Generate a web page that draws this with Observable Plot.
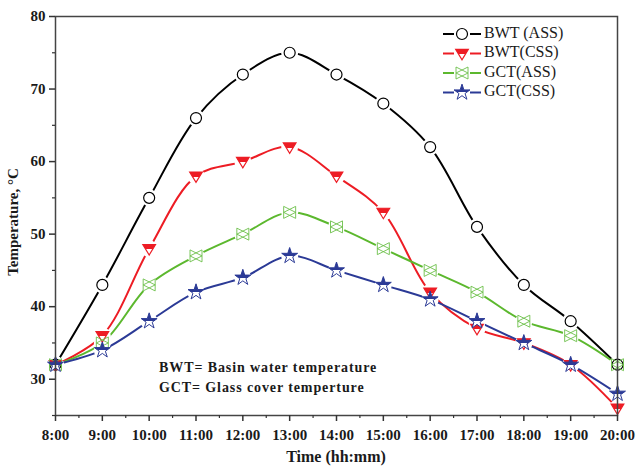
<!DOCTYPE html>
<html><head><meta charset="utf-8">
<script src="https://cdn.jsdelivr.net/npm/d3@7"></script>
<script src="https://cdn.jsdelivr.net/npm/@observablehq/plot@0.6"></script>
<style>
html,body{margin:0;padding:0;background:#fff;}
#chart{position:relative;width:640px;height:476px;}
</style></head>
<body>
<svg width="0" height="0" style="position:absolute">
  <defs>
    <linearGradient id="halfRed" x1="0" y1="0" x2="0" y2="1">
      <stop offset="0" stop-color="#ed1c24"/><stop offset="0.45" stop-color="#ed1c24"/>
      <stop offset="0.45" stop-color="#fff"/><stop offset="1" stop-color="#fff"/>
    </linearGradient>
    <linearGradient id="halfBlue" x1="0" y1="0" x2="0" y2="1">
      <stop offset="0" stop-color="#2b3a96"/><stop offset="0.55" stop-color="#2b3a96"/>
      <stop offset="0.55" stop-color="#fff"/><stop offset="1" stop-color="#fff"/>
    </linearGradient>
  </defs>
</svg>
<div id="chart"></div>
<script>
const hours = [8, 9, 10, 11, 12, 13, 14, 15, 16, 17, 18, 19, 20];
const tickLabels = ["8:00","9:00","10:00","11:00","12:00","13:00","14:00","15:00","16:00","17:00","18:00","19:00","20:00"];
const bwtASS = [32, 43, 55, 66, 72, 75, 72, 68, 62, 51, 43, 38, 32];
const bwtCSS = [32, 36, 48, 58, 60, 62, 58, 53, 42, 37, 35, 32, 26];
const gctASS = [32, 35, 43, 47, 50, 53, 51, 48, 45, 42, 38, 36, 32];
const gctCSS = [32, 34, 38, 42, 44, 47, 45, 43, 41, 38, 35, 32, 28];
const seriesNames = ["BWT (ASS)", "BWT(CSS)", "GCT(ASS)", "GCT(CSS)"];
const yTicks = [30, 40, 50, 60, 70, 80];
const notes = ["BWT= Basin water temperature", "GCT= Glass cover temperture"];

const colors = ["#000000", "#ed1c24", "#5cb82e", "#2b3a96"];

const triDown = {draw(ctx, size) {
  const r = Math.sqrt(size / Math.PI);
  ctx.moveTo(-r * 1.15, -r * 0.75); ctx.lineTo(r * 1.15, -r * 0.75); ctx.lineTo(0, r * 1.15); ctx.closePath();
}};
const bowX = {draw(ctx, size) {
  const r = Math.sqrt(size / Math.PI);
  ctx.moveTo(-r, -r); ctx.lineTo(r, 0); ctx.lineTo(-r, r); ctx.closePath();
  ctx.moveTo(r, -r); ctx.lineTo(-r, 0); ctx.lineTo(r, r); ctx.closePath();
}};

const series = [bwtASS, bwtCSS, gctASS, gctCSS];
const data = [];
series.forEach((vals, s) => hours.forEach((h, i) => data.push({series: seriesNames[s], s, h, v: vals[i]})));
const sub = s => data.filter(d => d.s === s);

const markStyles = [
  {symbol: "circle", r: 5.5, fill: "white", stroke: colors[0], strokeWidth: 1.2},
  {symbol: triDown, r: 5.5, fill: "url(#halfRed)", stroke: colors[1], strokeWidth: 1.2},
  {symbol: bowX, r: 6, fill: "none", stroke: "#6cc04a", strokeWidth: 0.9},
  {symbol: "star", r: 5, fill: "url(#halfBlue)", stroke: colors[3], strokeWidth: 1}
];

const marks = [];
for (let s = 0; s < 4; s++) {
  marks.push(Plot.line(sub(s), {x: "h", y: "v", stroke: colors[s], strokeWidth: 2, curve: "catmull-rom"}));
}
marks.push(Plot.dot(data, {x: "h", y: "v", r: 8.5, fill: "white", stroke: null}));
for (let s = 0; s < 4; s++) {
  marks.push(Plot.dot(sub(s), {x: "h", y: "v", ...markStyles[s]}));
}

const halfHours = d3.range(8, 20.01, 0.5).filter(h => !Number.isInteger(h));
const minorY = [25, 35, 45, 55, 65, 75];

const chart = Plot.plot({
  width: 640, height: 476,
  marginLeft: 55, marginRight: 23, marginTop: 16, marginBottom: 61,
  style: {fontFamily: "'Liberation Serif', serif", fontSize: "15px", fontWeight: "bold", color: "#1a1a1a", background: "white"},
  x: {domain: [8, 20]},
  y: {domain: [25, 80]},
  marks: [
    ...marks,
    Plot.frame({stroke: "#444", strokeWidth: 1.5}),
    Plot.axisX(hours, {tickSize: 6, tickPadding: 8, tickFormat: (d, i) => tickLabels[i], label: null, strokeWidth: 1.5, stroke: "#333"}),
    Plot.axisX(halfHours, {tickSize: 3, tickFormat: () => "", label: null, strokeWidth: 1.2, stroke: "#333"}),
    Plot.axisY(yTicks, {tickSize: 6, tickPadding: 4, label: null, strokeWidth: 1.5, stroke: "#333"}),
    Plot.axisY(minorY, {tickSize: 3, tickFormat: () => "", label: null, strokeWidth: 1.2, stroke: "#333"})
  ]
});
document.getElementById("chart").appendChild(chart);

const svg = d3.select(chart);
// axis titles
svg.append("text").attr("x", 336).attr("y", 458).attr("text-anchor", "middle").attr("dominant-baseline", "middle")
  .style("font-size", "16px").style("font-weight", "bold").text("Time (hh:mm)");
svg.append("text").attr("transform", "translate(15,222) rotate(-90)").attr("text-anchor", "middle").attr("dominant-baseline", "middle")
  .style("font-size", "15px").style("font-weight", "bold").text("Temperature, °C");
// notes
notes.forEach((t, i) => svg.append("text").attr("x", 159).attr("y", 369 + i * 20).attr("dominant-baseline", "middle")
  .attr("text-anchor", "start")
  .style("font-size", "14px").style("font-weight", "bold").style("letter-spacing", "0.9px").text(t));

// legend
const legY = [34, 53.5, 73, 92.5];
seriesNames.forEach((name, s) => {
  const g = svg.append("g").attr("transform", `translate(462,${legY[s]})`);
  g.append("line").attr("x1", -19).attr("x2", -8).attr("stroke", colors[s]).attr("stroke-width", 2);
  g.append("line").attr("x1", 8).attr("x2", 19).attr("stroke", colors[s]).attr("stroke-width", 2);
  const st = markStyles[s];
  const sym = typeof st.symbol === "string" ? (st.symbol === "circle" ? d3.symbolCircle : d3.symbolStar) : st.symbol;
  g.append("path").attr("d", d3.symbol(sym, st.r * st.r * Math.PI)())
    .attr("fill", st.fill).attr("stroke", st.stroke).attr("stroke-width", st.strokeWidth);
  g.append("text").attr("x", 22).attr("dominant-baseline", "middle").attr("text-anchor", "start")
    .style("font-size", "16px").style("font-weight", "normal").text(name);
});
</script>
</body></html>
